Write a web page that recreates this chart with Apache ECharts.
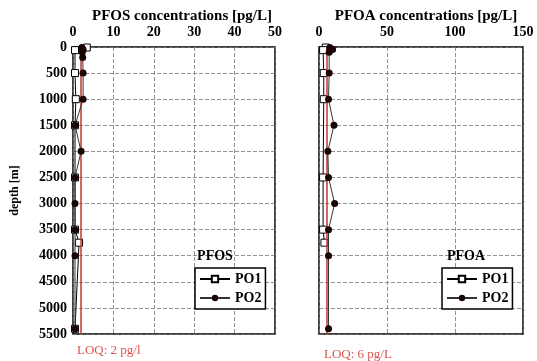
<!DOCTYPE html>
<html>
<head>
<meta charset="utf-8">
<script src="https://cdn.jsdelivr.net/npm/echarts@6/dist/echarts.min.js"></script>
<style>
  html, body { margin: 0; padding: 0; background: #fff; }
  #chart { width: 537px; height: 361px; }
</style>
</head>
<body>
<div id="chart"></div>
<script>
// depths in m, concentrations in pg/L
const depthTicks = [0, 500, 1000, 1500, 2000, 2500, 3000, 3500, 4000, 4500, 5000, 5500];

const pfosPO1Depth = [10, 60, 500, 1000, 1500, 2500, 3500, 3750, 5400];
const pfosPO1 = [3.4, 0.5, 0.5, 0.7, 0.5, 0.5, 0.5, 1.5, 0.5];
const pfosPO2Depth = [10, 50, 100, 200, 500, 1000, 1500, 2000, 2500, 3000, 3500, 4000, 5400];
const pfosPO2 = [2.2, 2.5, 2.3, 2.4, 2.5, 2.5, 0.5, 2.0, 0.5, 0.5, 0.5, 0.5, 0.5];

const pfoaPO1Depth = [10, 60, 500, 1000, 2500, 3500, 3750];
const pfoaPO1 = [5, 3, 3.5, 3.5, 3, 3, 4];
const pfoaPO2Depth = [10, 50, 100, 500, 1000, 1500, 2000, 2500, 3000, 3500, 4000, 5400];
const pfoaPO2 = [8, 10, 7.5, 7.5, 7, 11, 6.5, 7, 11.5, 7, 7, 7];

const loqPFOS = 2;
const loqPFOA = 6;

const serif = 'Liberation Serif';
const chart = echarts.init(document.getElementById('chart'));

const pairs = (vals, depths) => vals.map((v, i) => [v, depths[i]]);

function po1(data, idx) {
  return {
    name: 'PO1', type: 'line', xAxisIndex: idx, yAxisIndex: idx,
    data: data, symbol: 'rect', symbolSize: 7, z: 4,
    lineStyle: { color: '#000', width: 1 },
    itemStyle: { color: '#fff', borderColor: '#000', borderWidth: 1 }
  };
}
function po2(data, idx, loq) {
  return {
    name: 'PO2', type: 'line', xAxisIndex: idx, yAxisIndex: idx,
    data: data, symbol: 'circle', symbolSize: 7, z: 5,
    lineStyle: { color: '#333', width: 1 },
    itemStyle: { color: '#1a0505' },
    markLine: {
      silent: true, symbol: 'none', label: { show: false },
      lineStyle: { color: '#c0392b', width: 1.5, type: 'solid' },
      data: [{ xAxis: loq }]
    }
  };
}

function xAx(idx, max, interval) {
  return {
    gridIndex: idx, type: 'value', position: 'top', min: 0, max: max, interval: interval,
    axisLine: { show: false }, axisTick: { show: false },
    axisLabel: { color: '#000', fontFamily: serif, fontWeight: 'bold', fontSize: 14, margin: 8 },
    splitLine: { lineStyle: { color: '#777', type: [4, 2], width: 0.8 } }
  };
}
function yAx(idx, showLabels) {
  return {
    gridIndex: idx, type: 'value', inverse: true,
    min: depthTicks[0], max: depthTicks[depthTicks.length - 1], interval: 500,
    axisLine: { show: false }, axisTick: { show: false },
    axisLabel: { show: showLabels, color: '#000', fontFamily: serif, fontWeight: 'bold', fontSize: 14, margin: 6,
      formatter: v => String(v) },
    splitLine: { lineStyle: { color: '#777', type: [4, 2], width: 0.8 } },
    name: showLabels ? 'depth [m]' : '', nameLocation: 'middle', nameGap: 52, nameRotate: 90,
    nameTextStyle: { color: '#000', fontFamily: serif, fontWeight: 'bold', fontSize: 12 }
  };
}

const legendStyle = {
  orient: 'vertical', data: ['PO1', 'PO2'], itemWidth: 30, itemHeight: 8, itemGap: 5,
  borderColor: '#000', borderWidth: 1.5, borderRadius: 0, padding: [4, 4, 4, 4],
  backgroundColor: '#fff', selectedMode: false,
  textStyle: { color: '#000', fontFamily: serif, fontWeight: 'bold', fontSize: 14 }
};

const option = {
  animation: false,
  backgroundColor: '#fff',
  grid: [
    { left: 73, top: 47, width: 202, height: 287, show: true, borderColor: '#000', borderWidth: 1.5, backgroundColor: 'transparent' },
    { left: 319, top: 47, width: 204, height: 287, show: true, borderColor: '#000', borderWidth: 1.5, backgroundColor: 'transparent' }
  ],
  title: [
    { text: 'PFOS concentrations [pg/L]', left: 177, top: 4, textAlign: 'center',
      textStyle: { fontFamily: serif, fontWeight: 'bold', fontSize: 15, color: '#000' } },
    { text: 'PFOA concentrations [pg/L]', left: 421, top: 4, textAlign: 'center',
      textStyle: { fontFamily: serif, fontWeight: 'bold', fontSize: 15, color: '#000' } },
    { text: 'PFOS', left: 210, top: 244, textAlign: 'center',
      textStyle: { fontFamily: serif, fontWeight: 'bold', fontSize: 14, color: '#000' } },
    { text: 'PFOA', left: 461, top: 244, textAlign: 'center',
      textStyle: { fontFamily: serif, fontWeight: 'bold', fontSize: 14, color: '#000' } },
    { text: 'LOQ: 2 pg/l', left: 72, top: 339,
      textStyle: { fontFamily: serif, fontWeight: 'normal', fontSize: 13, color: '#d9534f' } },
    { text: 'LOQ: 6 pg/L', left: 319, top: 343,
      textStyle: { fontFamily: serif, fontWeight: 'normal', fontSize: 13, color: '#d9534f' } }
  ],
  legend: [
    Object.assign({ left: 195, top: 268 }, legendStyle),
    Object.assign({ left: 442, top: 268 }, legendStyle)
  ],
  xAxis: [xAx(0, 50, 10), xAx(1, 150, 50)],
  yAxis: [yAx(0, true), yAx(1, false)],
  series: [
    po1(pairs(pfosPO1, pfosPO1Depth), 0),
    po2(pairs(pfosPO2, pfosPO2Depth), 0, loqPFOS),
    po1(pairs(pfoaPO1, pfoaPO1Depth), 1),
    po2(pairs(pfoaPO2, pfoaPO2Depth), 1, loqPFOA)
  ]
};

chart.setOption(option);
</script>
</body>
</html>
